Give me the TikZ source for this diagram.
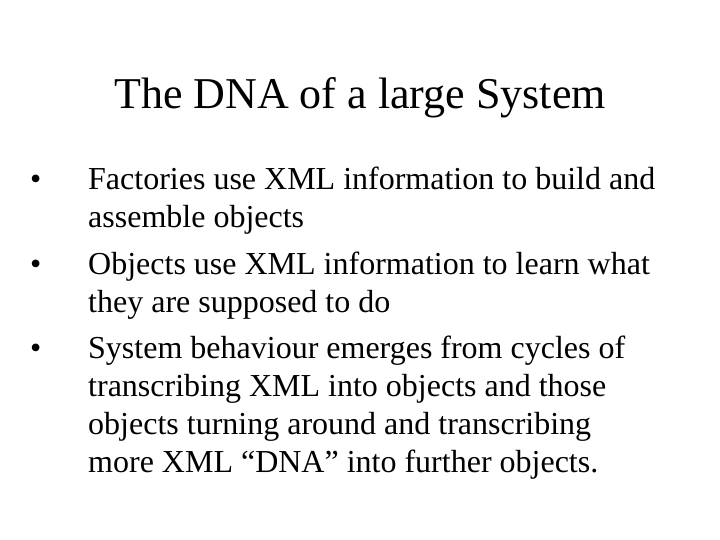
\documentclass[tikz,border=0pt]{standalone}
\usepackage{fontspec}
\setmainfont{Liberation Serif}
\begin{document}
\begin{tikzpicture}[x=1pt,y=-1pt,
  body/.style={anchor=base west,inner sep=0pt,font=\fontsize{32}{32}\selectfont},
  bul/.style={anchor=base west,inner sep=0pt,font=\fontsize{32}{32}\selectfont}]
\useasboundingbox (0,0) rectangle (720,540);
\node[anchor=base,inner sep=0pt,font=\fontsize{44}{44}\selectfont] (title) at (360,109) {The DNA of a large System};
\node[bul] (b1) at (30,190) {•};
\node[body] (l1) at (88,190) {Factories use XML information to build and};
\node[body] (l2) at (88,228) {assemble objects};
\node[bul] (b2) at (30,274) {•};
\node[body] (l3) at (88,274) {Objects use XML information to learn what};
\node[body] (l4) at (88,312) {they are supposed to do};
\node[bul] (b3) at (30,358) {•};
\node[body] (l5) at (88,358) {System behaviour emerges from cycles of};
\node[body] (l6) at (88,396) {transcribing XML into objects and those};
\node[body] (l7) at (88,434) {objects turning around and transcribing};
\node[body] (l8) at (88,472) {more XML “DNA” into further objects.};
\end{tikzpicture}
\end{document}
